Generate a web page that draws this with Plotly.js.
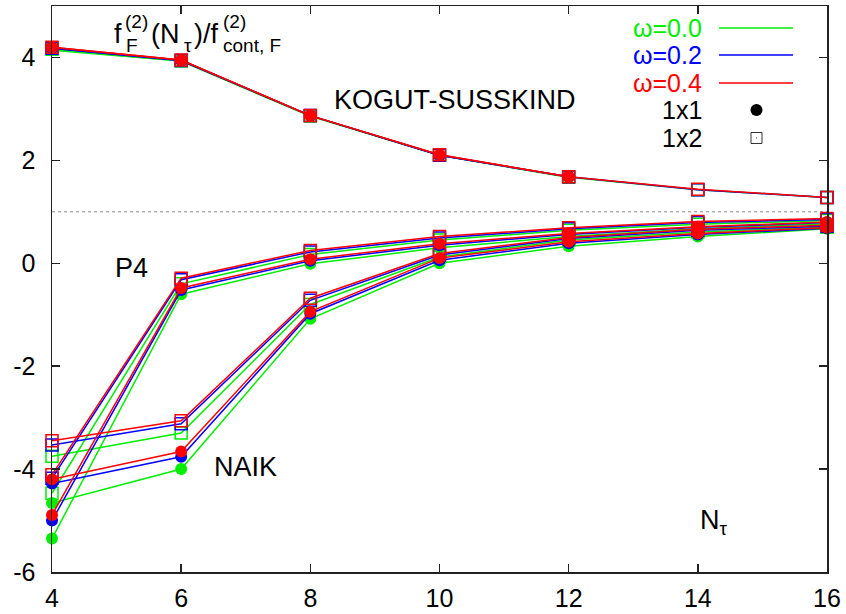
<!DOCTYPE html>
<html>
<head>
<meta charset="utf-8">
<script src="https://cdn.plot.ly/plotly-3.0.1.min.js"></script>
<style>html,body{margin:0;padding:0;background:#fff;}#chart{width:846px;height:614px;}</style>
</head>
<body>
<div id="chart"></div>
<script>
// ---- data ----
const ntAll = [4, 6, 8, 10, 12, 14, 16];
const ntShort = [4, 6, 8, 10, 12];

// KOGUT-SUSSKIND
const ksC_g = [4.14, 3.93, 2.86, 2.10, 1.67];
const ksC_b = [4.18, 3.94, 2.87, 2.10, 1.68];
const ksC_r = [4.20, 3.95, 2.87, 2.11, 1.68];
const ksS_g = [4.16, 3.93, 2.86, 2.10, 1.67, 1.43, 1.28];
const ksS_b = [4.18, 3.94, 2.87, 2.10, 1.68, 1.43, 1.28];
const ksS_r = [4.20, 3.95, 2.87, 2.11, 1.68, 1.44, 1.28];

// P4
const p4C_g = [-5.35, -0.60, -0.01, 0.30, 0.52, 0.67, 0.77];
const p4C_b = [-5.00, -0.52, 0.05, 0.35, 0.56, 0.70, 0.79];
const p4C_r = [-4.89, -0.48, 0.08, 0.38, 0.58, 0.71, 0.80];
const p4S_g = [-4.47, -0.40, 0.17, 0.45, 0.64, 0.76, 0.83];
const p4S_b = [-4.18, -0.32, 0.22, 0.49, 0.67, 0.79, 0.85];
const p4S_r = [-4.11, -0.29, 0.25, 0.52, 0.69, 0.81, 0.87];

// NAIK
const nkC_g = [-4.66, -4.00, -1.08, 0.00, 0.33, 0.52, 0.67];
const nkC_b = [-4.28, -3.76, -0.98, 0.06, 0.39, 0.56, 0.68];
const nkC_r = [-4.20, -3.66, -0.94, 0.10, 0.42, 0.58, 0.69];
const nkS_g = [-3.75, -3.30, -0.80, 0.12, 0.45, 0.61, 0.70];
const nkS_b = [-3.53, -3.12, -0.72, 0.16, 0.48, 0.64, 0.72];
const nkS_r = [-3.45, -3.06, -0.68, 0.19, 0.50, 0.66, 0.74];

const refX = [4, 16];
const refY = [1, 1];

const xTicks = [4, 6, 8, 10, 12, 14, 16];
const yTicks = [-6, -4, -2, 0, 2, 4];

const legendLabels = ['\u03c9=0.0', '\u03c9=0.2', '\u03c9=0.4'];
const actionLabels = ['1x1', '1x2'];

// ---- style ----
const GREEN = '#00ee00', BLUE = '#0000ff', RED = '#ff0000';
const FONT = 'Liberation Sans, Arial, Helvetica, sans-serif';
const L = 52, R = 827, T = 6, B = 572;
const fx = p => (p - L) / (R - L);
const fy = p => (B - p) / (B - T);

function circ(x, y, color) {
  return {x: x, y: y, type: 'scatter', mode: 'lines+markers', cliponaxis: false,
    line: {color: color, width: 1.5},
    marker: {symbol: 'circle', size: 12, color: color, line: {width: 0}}, showlegend: false, hoverinfo: 'skip'};
}
function sq(x, y, color) {
  return {x: x, y: y, type: 'scatter', mode: 'lines+markers', cliponaxis: false,
    line: {color: color, width: 1.5},
    marker: {symbol: 'square-open', size: 12, color: color, line: {width: 1.5, color: color}}, showlegend: false, hoverinfo: 'skip'};
}

const traces = [
  {x: refX, y: refY, type: 'scatter', mode: 'lines', line: {color: '#888888', width: 1, dash: 'dot'}, showlegend: false, hoverinfo: 'skip'},
  // green
  sq(ntAll, ksS_g, GREEN), circ(ntShort, ksC_g, GREEN),
  sq(ntAll, p4S_g, GREEN), circ(ntAll, p4C_g, GREEN),
  sq(ntAll, nkS_g, GREEN), circ(ntAll, nkC_g, GREEN),
  // blue
  sq(ntAll, ksS_b, BLUE), circ(ntShort, ksC_b, BLUE),
  sq(ntAll, p4S_b, BLUE), circ(ntAll, p4C_b, BLUE),
  sq(ntAll, nkS_b, BLUE), circ(ntAll, nkC_b, BLUE),
  // red
  sq(ntAll, ksS_r, RED), circ(ntShort, ksC_r, RED),
  sq(ntAll, p4S_r, RED), circ(ntAll, p4C_r, RED),
  sq(ntAll, nkS_r, RED), circ(ntAll, nkC_r, RED)
];

const big = 27, small = 19, leg = 25;
function ann(text, px, py, size, color, xanchor) {
  return {text: text, x: fx(px), y: fy(py), xref: 'paper', yref: 'paper', showarrow: false,
    xanchor: xanchor || 'left', yanchor: 'middle', borderpad: 0,
    font: {family: FONT, size: size, color: color || '#000'}};
}

const annotations = [
  ann('f', 113, 34, big),
  ann('(2)', 124, 22, small),
  ann('F', 125, 45, small),
  ann('(N', 150, 34, big),
  ann('\u03c4', 183, 46, small),
  ann(')/f', 193, 34, big),
  ann('(2)', 222, 22, small),
  ann('cont, F', 222, 45, small),
  ann('KOGUT-SUSSKIND', 455, 100, big, '#000', 'center'),
  ann('P4', 131, 268, big, '#000', 'center'),
  ann('NAIK', 245, 467, big, '#000', 'center'),
  ann('N<sub>\u03c4</sub>', 714, 522, big, '#000', 'center'),
  ann(legendLabels[0], 703, 28, leg, GREEN, 'right'),
  ann(legendLabels[1], 703, 55, leg, BLUE, 'right'),
  ann(legendLabels[2], 703, 83, leg, RED, 'right'),
  ann(actionLabels[0], 703, 110, leg, '#000', 'right'),
  ann(actionLabels[1], 703, 138, leg, '#000', 'right')
];

const shapes = [
  {type: 'line', xref: 'paper', yref: 'paper', x0: fx(719), x1: fx(793), y0: fy(28), y1: fy(28), line: {color: GREEN, width: 1.5}},
  {type: 'line', xref: 'paper', yref: 'paper', x0: fx(719), x1: fx(793), y0: fy(55), y1: fy(55), line: {color: BLUE, width: 1.5}},
  {type: 'line', xref: 'paper', yref: 'paper', x0: fx(719), x1: fx(793), y0: fy(83), y1: fy(83), line: {color: RED, width: 1.5}},
  {type: 'circle', xref: 'paper', yref: 'paper', x0: fx(750.5), x1: fx(762.5), y0: fy(104), y1: fy(116), fillcolor: '#000', line: {width: 0}},
  {type: 'rect', xref: 'paper', yref: 'paper', x0: fx(751), x1: fx(762), y0: fy(132.5), y1: fy(143.5), fillcolor: 'rgba(0,0,0,0)', line: {color: '#333', width: 1}},
  {type: 'rect', xref: 'paper', yref: 'paper', x0: fx(756), x1: fx(757), y0: fy(137.5), y1: fy(138.5), fillcolor: '#333', line: {width: 0}}
];

const axisCommon = {
  showgrid: false, zeroline: false, showline: true, linecolor: '#222', linewidth: 1.5,
  mirror: 'ticks', ticks: 'inside', ticklen: 8, tickwidth: 1.5, tickcolor: '#222',
  tickfont: {family: FONT, size: 25, color: '#000'}
};

const layout = {
  width: 846, height: 614,
  margin: {l: L, r: 846 - R, t: T, b: 614 - B},
  paper_bgcolor: '#fff', plot_bgcolor: '#fff',
  showlegend: false,
  xaxis: Object.assign({}, axisCommon, {range: [4, 16], tickvals: xTicks, ticktext: xTicks.map(String), ticklabelstandoff: 3}),
  yaxis: Object.assign({}, axisCommon, {range: [-6, 5], tickvals: yTicks, ticktext: yTicks.map(String), ticklabelstandoff: 10}),
  annotations: annotations,
  shapes: shapes
};

Plotly.newPlot('chart', traces, layout, {staticPlot: true, displayModeBar: false});
</script>
</body>
</html>
